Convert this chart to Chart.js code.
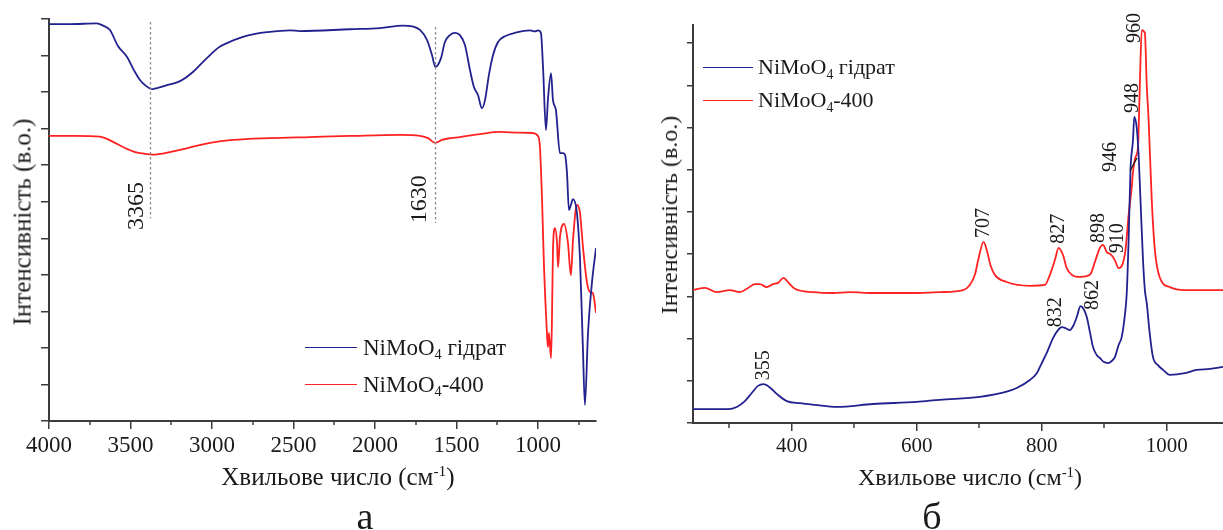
<!DOCTYPE html>
<html lang="uk">
<head>
<meta charset="utf-8">
<title>ІЧ та КР спектри NiMoO4</title>
<script src="https://cdn.jsdelivr.net/npm/chart.js@4.4.1/dist/chart.umd.min.js"></script>
<style>
  body { margin: 0; background: #fff; }
  #page { position: relative; width: 1223px; height: 530px; overflow: hidden;
          font-family: 'Liberation Serif', 'Times New Roman', serif; color: #1a1a1a; }
  #page canvas { position: absolute; top: 0; }
  .t { position: absolute; white-space: nowrap; line-height: 1; }
  .ytitle { transform: translate(-50%, -50%) rotate(-90deg); }
  .ctr { transform: translate(-50%, -50%); }
  .lg-line { position: absolute; height: 0; border-top: 1.6px solid; }
  .lg-text { position: absolute; white-space: nowrap; line-height: 1; transform: translateY(-50%); }
  sub { font-size: 0.62em; vertical-align: -0.35em; line-height: 0; }
  sup { font-size: 0.62em; vertical-align: 0.55em; line-height: 0; }
</style>
</head>
<body>
<div id="page">
  <canvas id="ir" width="620" height="530" style="left:0"></canvas>
  <canvas id="raman" width="603" height="530" style="left:620px"></canvas>

  <div class="t ytitle" style="left:22px; top:222px; font-size:25px">Інтенсивність (в.о.)</div>
  <div class="t ctr" style="left:338px; top:476px; font-size:25px">Хвильове число (см<sup>-1</sup>)</div>
  <div class="t ctr" style="left:365px; top:516px; font-size:38px">а</div>

  <div class="t ytitle" style="left:669px; top:215px; font-size:24px">Інтенсивність (в.о.)</div>
  <div class="t ctr" style="left:970px; top:477px; font-size:24px">Хвильове число (см<sup>-1</sup>)</div>
  <div class="t ctr" style="left:932px; top:516px; font-size:38px">б</div>
</div>

<script>
// ---- series names ----
const seriesNames = ['NiMoO4 гідрат', 'NiMoO4-400'];

// ---- IR spectra: wavenumber (cm-1) and transmission (a.u.) ----
const irHydrateWn = [4000, 3871, 3706, 3669, 3626, 3577, 3521, 3479, 3442, 3405, 3365, 3337, 3276, 3196, 3117,
  3061, 3012, 2963, 2908, 2810, 2736, 2663, 2521, 2460, 2153, 1969, 1828, 1773, 1724, 1681, 1650, 1630, 1595,
  1571, 1540, 1509, 1479, 1448, 1417, 1393, 1368, 1344, 1325, 1301, 1276, 1245, 1202, 1141, 1049, 1018, 1000,
  982, 969, 951, 939, 920, 908, 890, 865, 847, 834, 822, 810, 798, 785, 761, 742, 724, 712, 693, 669, 644];
const irHydrateT = [10.86, 10.86, 10.88, 10.82, 10.70, 10.26, 9.96, 9.60, 9.33, 9.17, 9.08, 9.11, 9.19, 9.30, 9.55,
  9.80, 10.01, 10.21, 10.34, 10.51, 10.59, 10.64, 10.69, 10.67, 10.72, 10.75, 10.82, 10.80, 10.70, 10.43, 10.01, 9.69, 9.93,
  10.37, 10.56, 10.62, 10.56, 10.29, 9.60, 9.14, 8.92, 8.56, 8.78, 9.47, 10.01, 10.37, 10.53, 10.62, 10.69, 10.66, 10.69,
  10.62, 9.69, 7.96, 8.78, 9.52, 8.78, 8.51, 7.33, 7.33, 7.28, 6.79, 5.77, 5.91, 6.07, 5.69, 4.41, 1.94, 0.44, 2.41, 3.78, 4.73];

const ir400Wn = [4000, 3840, 3687, 3656, 3595, 3534, 3472, 3411, 3365, 3288, 3196, 3104, 3012, 2871, 2644, 2399,
  2153, 1847, 1724, 1675, 1630, 1589, 1552, 1479, 1356, 1233, 1110, 1031, 1000, 988, 975, 963, 945, 939, 933, 920,
  914, 908, 896, 883, 877, 865, 840, 816, 798, 785, 761, 742, 724, 699, 681, 663, 644];
const ir400T = [7.80, 7.80, 7.78, 7.74, 7.61, 7.47, 7.36, 7.31, 7.29, 7.33, 7.42, 7.52, 7.61, 7.69, 7.74, 7.77,
  7.80, 7.83, 7.80, 7.74, 7.61, 7.69, 7.73, 7.77, 7.85, 7.91, 7.89, 7.88, 7.80, 7.50, 6.05, 4.21, 2.41, 2.02, 2.41, 1.72,
  2.85, 4.68, 5.28, 4.87, 4.21, 5.03, 5.39, 4.87, 3.99, 4.95, 5.91, 5.69, 4.76, 3.78, 3.53, 3.50, 2.96];

// ---- Raman spectra: shift (cm-1) and intensity (a.u.) ----
const ramanHydrateShift = [242, 298, 312, 325, 336, 346, 355, 366, 376, 392, 413, 437, 472, 530, 600, 637, 701,
  741, 760, 781, 792, 800, 808, 818, 826, 832, 838, 845, 851, 856, 862, 867, 872, 877, 882, 888, 893, 899, 906,
  912, 917, 923, 928, 933, 936, 939, 942, 946, 948, 952, 955, 958, 962, 965, 968, 973, 978, 986, 994, 1005, 1029,
  1048, 1069, 1090];
const ramanHydrateI = [0.33, 0.33, 0.38, 0.52, 0.71, 0.88, 0.92, 0.83, 0.69, 0.52, 0.47, 0.43, 0.38, 0.45, 0.50, 0.55, 0.62,
  0.73, 0.83, 1.02, 1.18, 1.42, 1.66, 2.01, 2.20, 2.27, 2.25, 2.20, 2.32, 2.51, 2.77, 2.70, 2.51, 2.16, 1.80, 1.61, 1.54, 1.45, 1.42,
  1.47, 1.56, 1.85, 2.04, 2.56, 3.08, 4.34, 6.00, 6.71, 7.25, 6.99, 6.35, 5.28, 3.86, 3.15, 2.84, 2.09, 1.56, 1.37, 1.26, 1.14, 1.18,
  1.26, 1.28, 1.33];

const raman400Shift = [242, 261, 280, 301, 317, 330, 341, 349, 360, 370, 378, 387, 394, 405, 434, 466, 493, 530,
  600, 637, 674, 685, 693, 699, 707, 712, 718, 725, 744, 781, 805, 813, 821, 827, 834, 840, 848, 861, 877, 886,
  893, 898, 904, 910, 917, 923, 928, 934, 939, 944, 946, 950, 954, 957, 960, 965, 968, 971, 976, 981, 989, 1005,
  1029, 1061, 1090];
const raman400I = [3.15, 3.20, 3.10, 3.15, 3.10, 3.20, 3.29, 3.29, 3.22, 3.29, 3.32, 3.44, 3.34, 3.18, 3.10, 3.08, 3.10, 3.08,
  3.08, 3.10, 3.15, 3.27, 3.51, 3.91, 4.29, 4.10, 3.74, 3.51, 3.34, 3.25, 3.27, 3.51, 3.86, 4.15, 3.98, 3.67, 3.51, 3.46, 3.51, 3.86,
  4.15, 4.22, 4.05, 4.00, 3.86, 3.67, 3.72, 4.10, 4.93, 5.59, 5.95, 6.30, 6.54, 8.06, 9.31, 9.24, 8.01, 7.18, 5.28, 4.10, 3.44, 3.22,
  3.15, 3.15, 3.15];

// ---- axis ticks ----
const irTicks = [4000, 3500, 3000, 2500, 2000, 1500, 1000];
const irMinorTicks = [3750, 3250, 2750, 2250, 1750, 1250, 750];
const irIntensityTicks = [0, 1, 2, 3, 4, 5, 6, 7, 8, 9, 10, 11];
const ramanTicks = [400, 600, 800, 1000];
const ramanMinorTicks = [300, 500, 700, 900];
const ramanIntensityTicks = [0, 1, 2, 3, 4, 5, 6, 7, 8, 9];

// ---- marked bands ----
const irBands = [3365, 1630];
const ramanHydratePeaks = [355, 832, 862, 948];
const raman400Peaks = [707, 827, 898, 910, 946, 960];

// ---- styling ----
const BLUE = '#22228e';
const RED = '#ff2222';
const AXIS = '#3c3c3c';
const FONT = "'Liberation Serif', 'Times New Roman', serif";

const zip = (xs, ys) => xs.map((x, i) => ({ x, y: ys[i] }));

// linear interpolation of a series at a given abscissa
function valueAt(xs, ys, x) {
  for (let i = 0; i < xs.length - 1; i++) {
    const a = xs[i], b = xs[i + 1];
    if ((x - a) * (x - b) <= 0) {
      const t = b === a ? 0 : (x - a) / (b - a);
      return ys[i] + t * (ys[i + 1] - ys[i]);
    }
  }
  return ys[ys.length - 1];
}

// minor ticks, guide lines and rotated band labels
const decor = {
  id: 'decor',
  afterDraw(chart, args, o) {
    const ctx = chart.ctx, xs = chart.scales.x, ys = chart.scales.y;
    const bottom = chart.chartArea.bottom;
    ctx.save();
    ctx.strokeStyle = AXIS;
    ctx.lineWidth = 1.5;
    (o.minor || []).forEach(v => {
      const px = Math.round(xs.getPixelForValue(v));
      ctx.beginPath();
      ctx.moveTo(px, bottom);
      ctx.lineTo(px, bottom + o.minorLen);
      ctx.stroke();
    });
    (o.guides || []).forEach(g => {
      const px = Math.round(xs.getPixelForValue(g.x) + (g.dx || 0)) + 0.5;
      ctx.save();
      ctx.strokeStyle = '#8c8c8c';
      ctx.lineWidth = 1.3;
      ctx.setLineDash([2.5, 2.5]);
      ctx.beginPath();
      ctx.moveTo(px, ys.getPixelForValue(g.top));
      ctx.lineTo(px, ys.getPixelForValue(g.bottom));
      ctx.stroke();
      ctx.restore();
    });
    (o.labels || []).forEach(l => {
      const px = xs.getPixelForValue(l.x) + (l.dx || 0);
      const py = ys.getPixelForValue(l.y) + (l.dy || 0);
      ctx.save();
      ctx.translate(px, py);
      ctx.rotate(-Math.PI / 2);
      ctx.font = `${o.fontSize}px ${FONT}`;
      ctx.fillStyle = '#1a1a1a';
      ctx.textAlign = l.align || 'left';
      ctx.textBaseline = 'middle';
      ctx.fillText(String(l.x), 0, 0);
      ctx.restore();
      if (l.leader) {
        ctx.save();
        ctx.strokeStyle = '#1a1a1a';
        ctx.lineWidth = 1.2;
        ctx.beginPath();
        ctx.moveTo(px + l.leader[0], py + l.leader[1]);
        ctx.lineTo(px + l.leader[2], py + l.leader[3]);
        ctx.stroke();
        ctx.restore();
      }
    });
    ctx.restore();
  }
};

function axisX(min, max, ticks, fontSize, height, reverse) {
  return {
    type: 'linear', min, max, reverse,
    afterBuildTicks: s => { s.ticks = ticks.map(v => ({ value: v })); },
    afterFit: s => { s.height = height; },
    grid: { drawOnChartArea: false, drawTicks: true, tickLength: 8, color: AXIS, lineWidth: 1.5 },
    border: { display: true, color: AXIS, width: 2 },
    ticks: { font: { family: FONT, size: fontSize }, color: '#1a1a1a', padding: 3,
             maxRotation: 0, autoSkip: false, callback: v => String(v) }
  };
}

function axisY(min, max, ticks, width, tickLen) {
  return {
    type: 'linear', min, max,
    afterBuildTicks: s => { s.ticks = ticks.map(v => ({ value: v })); },
    afterFit: s => { s.width = width; },
    grid: { drawOnChartArea: false, drawTicks: true, tickLength: tickLen, color: AXIS, lineWidth: 1.5 },
    border: { display: true, color: AXIS, width: 2 },
    ticks: { display: false }
  };
}

function lineSet(label, xs, ys, color) {
  return { label, data: zip(xs, ys), borderColor: color, backgroundColor: color,
           borderWidth: 1.8, pointRadius: 0, cubicInterpolationMode: 'monotone', fill: false };
}

function baseOptions(padding, scales, decorOpts) {
  return {
    responsive: false, animation: false, devicePixelRatio: 1, events: [],
    layout: { padding },
    plugins: { legend: { display: false }, tooltip: { enabled: false }, decor: decorOpts },
    scales
  };
}

// ---- (а) IR ----
const irChart = new Chart(document.getElementById('ir'), {
  type: 'line',
  data: { datasets: [
    lineSet(seriesNames[0], irHydrateWn, irHydrateT, BLUE),
    lineSet(seriesNames[1], ir400Wn, ir400T, RED)
  ] },
  options: baseOptions(
    { left: 0, top: 19, right: 24, bottom: 0 },
    { x: axisX(644, 4000, irTicks, 23, 109, true), y: axisY(0, 11, irIntensityTicks, 49, 8) },
    {
      minor: irMinorTicks, minorLen: 4, fontSize: 24,
      guides: [
        { x: irBands[0], dx: -2, top: 10.92, bottom: 5.55 },
        { x: irBands[1], top: 10.78, bottom: 5.42 }
      ],
      labels: [
        { x: irBands[0], y: 5.88, dx: -16, align: 'center' },
        { x: irBands[1], y: 6.07, dx: -16, align: 'center' }
      ]
    }
  ),
  plugins: [decor]
});

// ---- (б) Raman ----
const hy = x => valueAt(ramanHydrateShift, ramanHydrateI, x);
const an = x => valueAt(raman400Shift, raman400I, x);
const ramanLabelOffsets = {
  355: { dx: 0, dy: -4 }, 832: { dx: -6, dy: 0 }, 862: { dx: 12, dy: 4 }, 948: { dx: -2, dy: -4 },
  707: { dx: 0, dy: -4 }, 827: { dx: 0, dy: -4 }, 898: { dx: -4, dy: -2 }, 910: { dx: 7, dy: -1 },
  946: { dx: -22, dy: 0, leader: [19, -1, 26, -14] }, 960: { dx: -7, dy: 13 }
};
const ramanLabels = [
  ...ramanHydratePeaks.map(p => ({ x: p, y: hy(p), ...ramanLabelOffsets[p] })),
  ...raman400Peaks.map(p => ({ x: p, y: an(p), ...ramanLabelOffsets[p] }))
];

const ramanChart = new Chart(document.getElementById('raman'), {
  type: 'line',
  data: { datasets: [
    lineSet(seriesNames[0], ramanHydrateShift, ramanHydrateI, BLUE),
    lineSet(seriesNames[1], raman400Shift, raman400I, RED)
  ] },
  options: baseOptions(
    { left: 0, top: 25, right: 0, bottom: 0 },
    { x: axisX(242, 1090, ramanTicks, 21, 107, false), y: axisY(0, 9.43, ramanIntensityTicks, 73, 6) },
    { minor: ramanMinorTicks, minorLen: 5, fontSize: 20, labels: ramanLabels }
  ),
  plugins: [decor]
});

// ---- legends built from each chart's datasets ----
function buildLegend(chart, offsetLeft, x0, lineLen, gap, rowsY, fontSize) {
  const page = document.getElementById('page');
  chart.data.datasets.forEach((ds, i) => {
    const line = document.createElement('div');
    line.className = 'lg-line';
    line.style.left = (offsetLeft + x0) + 'px';
    line.style.top = rowsY[i] + 'px';
    line.style.width = lineLen + 'px';
    line.style.borderTopColor = ds.borderColor;
    page.appendChild(line);
    const text = document.createElement('div');
    text.className = 'lg-text';
    text.style.left = (offsetLeft + x0 + lineLen + gap) + 'px';
    text.style.top = rowsY[i] + 'px';
    text.style.fontSize = fontSize + 'px';
    text.innerHTML = ds.label.replace(/O4/, 'O<sub>4</sub>');
    page.appendChild(text);
  });
}
buildLegend(irChart, 0, 305, 52, 6, [347, 384], 23);
buildLegend(ramanChart, 0, 703, 50, 5, [67, 100], 22);
</script>
</body>
</html>
